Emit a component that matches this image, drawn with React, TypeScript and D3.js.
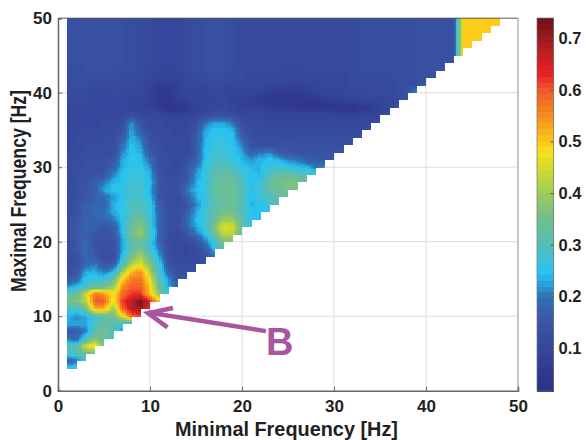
import React, { useEffect, useRef } from 'react';
import * as d3 from 'd3';

// correlation x100 at grid nodes, one row per maximal frequency, k = 1, 2, ... along each row
const row3 = [28, 28];
const row4 = [17, 19, 30];
const row5 = [28, 30, 33, 35];
const row6 = [31, 30, 46, 50, 34];
const row7 = [20, 18, 28, 38, 33, 28];
const row8 = [15, 16, 20, 31, 36, 30, 20];
const row9 = [23, 23, 23, 29, 33, 32, 28, 27];
const row10 = [24, 21, 23, 28, 30, 34, 45, 58, 60];
const row11 = [28, 28, 34, 52, 52, 40, 58, 67, 70, 62];
const row12 = [37, 37, 42, 60, 60, 46, 62, 68, 74, 64, 50];
const row13 = [33, 33, 44, 58, 54, 47, 58, 62, 62, 50, 38, 25];
const row14 = [22, 25, 28, 33, 34, 40, 55, 59, 59, 50, 33, 23, 18];
const row15 = [15, 17, 26, 27, 27, 33, 49, 57, 57, 47, 30, 22, 15, 14];
const row16 = [13, 15, 23, 24, 20, 24, 40, 52, 55, 42, 28, 18, 13, 12, 12];
const row17 = [12, 13, 18, 20, 15, 16, 28, 42, 46, 36, 27, 14, 12, 12, 12, 12];
const row18 = [12, 14, 18, 16, 13, 13, 25, 36, 42, 33, 23, 13, 11, 11, 11, 13, 20];
const row19 = [12, 15, 19, 15, 13, 13, 22, 31, 36, 28, 20, 13, 11, 10, 12, 16, 24, 32];
const row20 = [12, 15, 18, 14, 13, 14, 22, 32, 33, 27, 18, 13, 11, 11, 14, 20, 28, 36, 36];
const row21 = [12, 15, 17, 15, 14, 15, 24, 35, 40, 30, 18, 13, 11, 14, 19, 25, 33, 43, 42, 33];
const row22 = [12, 16, 18, 17, 15, 16, 25, 34, 38, 28, 18, 13, 12, 18, 23, 27, 36, 46, 45, 33, 26];
const row23 = [12, 15, 17, 17, 18, 20, 25, 32, 35, 28, 18, 13, 12, 18, 24, 27, 33, 40, 40, 32, 25, 24];
const row24 = [12, 14, 17, 18, 19, 23, 26, 30, 31, 27, 17, 13, 12, 16, 23, 28, 32, 35, 35, 30, 25, 25, 25];
const row25 = [12, 13, 17, 18, 17, 24, 26, 30, 30, 27, 17, 13, 12, 15, 21, 26, 31, 34, 34, 30, 24, 25, 28, 30];
const row26 = [12, 13, 15, 17, 19, 22, 25, 28, 28, 25, 15, 13, 12, 17, 23, 27, 32, 34, 34, 30, 24, 27, 30, 32, 34];
const row27 = [12, 13, 15, 16, 23, 25, 26, 29, 28, 24, 14, 13, 13, 20, 24, 27, 32, 34, 34, 30, 25, 28, 32, 34, 36, 36];
const row28 = [11, 13, 14, 17, 20, 24, 25, 28, 28, 25, 15, 12, 12, 16, 23, 27, 32, 34, 34, 29, 25, 27, 33, 35, 36, 36, 34];
const row29 = [11, 12, 14, 14, 15, 21, 25, 27, 27, 24, 14, 12, 12, 15, 22, 27, 31, 33, 32, 28, 25, 24, 30, 33, 33, 32, 30, 28];
const row30 = [11, 12, 13, 13, 13, 17, 24, 26, 26, 22, 13, 12, 11, 15, 20, 26, 30, 31, 29, 26, 24, 24, 27, 28, 27, 25, 25, 20, 22];
const row31 = [11, 12, 13, 13, 13, 15, 23, 26, 25, 19, 13, 12, 11, 13, 17, 25, 28, 29, 27, 24, 22, 24, 25, 24, 21, 20, 17, 16, 15, 15];
const row32 = [11, 11, 12, 12, 12, 13, 21, 25, 24, 15, 13, 11, 11, 11, 16, 25, 27, 27, 26, 23, 17, 20, 21, 16, 15, 14, 14, 14, 14, 14, 15];
const row33 = [10, 11, 12, 12, 12, 12, 19, 25, 22, 14, 12, 11, 11, 11, 16, 24, 27, 27, 26, 21, 14, 13, 13, 13, 14, 13, 13, 13, 13, 13, 13, 14];
const row34 = [10, 11, 11, 11, 12, 12, 16, 24, 20, 13, 12, 11, 11, 11, 15, 24, 26, 26, 25, 17, 13, 12, 12, 12, 12, 12, 12, 12, 12, 12, 12, 12, 13];
const row35 = [10, 10, 11, 11, 11, 11, 14, 23, 16, 12, 11, 11, 10, 11, 14, 23, 25, 25, 24, 15, 12, 11, 11, 11, 11, 11, 11, 11, 11, 11, 11, 11, 11, 13];
const row36 = [10, 10, 10, 10, 11, 11, 13, 22, 14, 11, 11, 10, 10, 10, 12, 20, 23, 23, 20, 12, 11, 11, 10, 10, 10, 10, 10, 10, 10, 10, 10, 10, 10, 11, 13];
const row37 = [10, 10, 10, 10, 10, 10, 10, 12, 11, 10, 10, 9, 8, 9, 10, 11, 13, 13, 12, 10, 10, 10, 9, 9, 9, 9, 9, 9, 9, 9, 8, 8, 9, 9, 10, 13];
const row38 = [10, 10, 11, 10, 10, 10, 10, 9, 9, 8, 7, 4, 4, 6, 8, 9, 10, 10, 9, 8, 8, 8, 7, 7, 7, 6, 5, 5, 6, 5, 4, 4, 5, 6, 8, 9, 13];
const row39 = [11, 11, 11, 10, 10, 10, 10, 9, 9, 8, 5, 5, 7, 8, 9, 9, 10, 10, 9, 8, 7, 6, 5, 4, 5, 5, 5, 5, 6, 7, 8, 9, 9, 9, 10, 10, 11, 13];
const row40 = [11, 11, 11, 10, 10, 11, 11, 10, 10, 8, 5, 6, 8, 9, 9, 9, 10, 10, 9, 9, 9, 8, 7, 6, 6, 6, 7, 8, 9, 9, 10, 10, 10, 11, 11, 11, 12, 14, 24];
const row41 = [12, 12, 12, 11, 11, 11, 11, 11, 10, 9, 6, 7, 8, 10, 10, 10, 11, 11, 10, 10, 10, 10, 9, 9, 9, 8, 9, 9, 10, 10, 10, 11, 11, 11, 11, 11, 12, 13, 13, 18];
const row42 = [12, 12, 12, 12, 12, 12, 12, 11, 11, 10, 9, 9, 9, 10, 11, 12, 12, 12, 11, 11, 10, 10, 10, 10, 10, 10, 10, 10, 10, 10, 10, 11, 11, 11, 11, 12, 12, 12, 13, 13, 14];
const row43 = [12, 12, 13, 13, 13, 13, 12, 12, 11, 10, 10, 9, 10, 11, 12, 13, 13, 13, 12, 11, 11, 11, 11, 11, 10, 10, 11, 11, 11, 11, 11, 11, 12, 12, 12, 12, 12, 12, 13, 13, 13, 14];
const row44 = [13, 13, 13, 13, 13, 13, 13, 12, 11, 11, 10, 10, 10, 11, 12, 13, 13, 13, 12, 11, 11, 11, 11, 11, 11, 11, 11, 11, 11, 11, 11, 11, 12, 12, 12, 12, 12, 12, 13, 13, 13, 13, 14];
const row45 = [13, 13, 13, 13, 13, 13, 13, 12, 11, 11, 10, 10, 10, 11, 12, 13, 13, 13, 12, 11, 11, 11, 11, 11, 11, 11, 11, 11, 11, 11, 11, 11, 12, 12, 12, 12, 12, 12, 13, 13, 13, 13, 13, 50];
const row46 = [13, 13, 13, 13, 13, 13, 13, 12, 11, 11, 10, 10, 10, 11, 12, 13, 13, 13, 12, 11, 11, 11, 11, 11, 11, 11, 11, 11, 11, 11, 11, 11, 12, 12, 12, 12, 12, 12, 13, 13, 13, 13, 13, 50, 50];
const row47 = [13, 13, 13, 13, 13, 13, 13, 12, 11, 11, 10, 10, 10, 11, 12, 13, 13, 13, 12, 11, 11, 11, 11, 11, 11, 11, 11, 11, 11, 11, 11, 11, 12, 12, 12, 12, 12, 12, 13, 13, 13, 13, 13, 50, 50, 50];
const row48 = [13, 13, 13, 13, 13, 13, 13, 12, 11, 11, 10, 10, 10, 11, 12, 13, 13, 13, 12, 11, 11, 11, 11, 11, 11, 11, 11, 11, 11, 11, 11, 11, 12, 12, 12, 12, 12, 12, 13, 13, 13, 13, 13, 50, 50, 50, 50];
const row49 = [13, 13, 13, 13, 13, 13, 13, 12, 11, 11, 10, 10, 10, 11, 12, 13, 13, 13, 12, 11, 11, 11, 11, 11, 11, 11, 11, 11, 11, 11, 11, 11, 12, 12, 12, 12, 12, 12, 13, 13, 13, 13, 13, 50, 50, 50, 50, 50];
const row50 = [13, 13, 13, 13, 13, 13, 13, 12, 11, 11, 10, 10, 10, 11, 12, 13, 13, 13, 12, 11, 11, 11, 11, 11, 11, 11, 11, 11, 11, 11, 11, 11, 12, 12, 12, 12, 12, 12, 13, 13, 13, 13, 13, 50, 50, 50, 50, 50];

const rows = [
  row3, row4, row5, row6, row7, row8, row9, row10, row11, row12, row13, row14, row15, row16,
  row17, row18, row19, row20, row21, row22, row23, row24, row25, row26, row27, row28, row29,
  row30, row31, row32, row33, row34, row35, row36, row37, row38, row39, row40, row41, row42,
  row43, row44, row45, row46, row47, row48, row49, row50,
];
const firstRow = 3;

const axisTicks = [0, 10, 20, 30, 40, 50];
const barTicks = [0.1, 0.2, 0.3, 0.4, 0.5, 0.6, 0.7];
const barRange = [0.017, 0.739];

const colorStops = [0.017, 0.06, 0.1, 0.15, 0.2, 0.23, 0.25, 0.3, 0.35, 0.4, 0.45, 0.48, 0.5, 0.55, 0.6, 0.63, 0.68, 0.739];
const colorValues = ['#2e3086', '#303a90', '#34479c', '#3a55a5', '#2f72b8', '#27aae1', '#29c4f0', '#55bdb8', '#70bf90', '#9ccb5a', '#d4dc2a', '#f7e11d', '#fdc818', '#f68e1f', '#f0592a', '#ed2024', '#b51e23', '#6e1214'];

const FONT = '"Liberation Sans", Arial, sans-serif';
const INK = '#231f20';
const PURPLE = '#a9559f';

const App = () => {
  const svgRef = useRef<SVGSVGElement>(null);

  useEffect(() => {
    const svg = d3.select(svgRef.current);
    svg.selectAll('*').remove();

    const x = d3.scaleLinear().domain([0, 50]).range([58, 518]);
    const y = d3.scaleLinear().domain([0, 50]).range([390.7, 18.2]);
    const barY = d3.scaleLinear().domain(barRange).range([391, 18]);

    const smooth = d3.scaleLinear<string>().domain(colorStops).range(colorValues).interpolate(d3.interpolateRgb);
    // 64 colour steps, like the original colormap
    const levels = d3.range(64).map(i => smooth(barRange[0] + ((i + 0.5) / 64) * (barRange[1] - barRange[0])));
    const color = d3.scaleQuantize<string>().domain(barRange).range(levels);

    // grid first, the map sits over it
    const grid = svg.append('g').attr('stroke', '#dcdcdc').attr('stroke-width', 1);
    axisTicks.slice(1, -1).forEach(t => {
      grid.append('line').attr('x1', x(t)).attr('x2', x(t)).attr('y1', y(0)).attr('y2', y(50));
      grid.append('line').attr('x1', x(0)).attr('x2', x(50)).attr('y1', y(t)).attr('y2', y(t));
    });

    // interpolated shading between grid nodes
    const node = (k: number, j: number) => {
      const r = rows[j - firstRow];
      return r ? r[k - 1] : undefined;
    };
    const steps = 4;
    const map = svg.append('g').attr('shape-rendering', 'crispEdges');
    for (let j = firstRow; j < 50; j++) {
      for (let k = 1; k <= 47 && k <= j - 2; k++) {
        const a = node(k, j), b = node(k + 1, j), c = node(k, j + 1), d = node(k + 1, j + 1);
        if (a === undefined || b === undefined || c === undefined || d === undefined) continue;
        for (let s = 0; s < steps; s++) {
          for (let t = 0; t < steps; t++) {
            const u = (s + 0.5) / steps;
            const v = (t + 0.5) / steps;
            const val = (a * (1 - u) * (1 - v) + b * u * (1 - v) + c * (1 - u) * v + d * u * v) / 100;
            const x0 = x(k + s / steps), x1 = x(k + (s + 1) / steps);
            const y0 = y(j + (t + 1) / steps), y1 = y(j + t / steps);
            map.append('rect')
              .attr('x', x0).attr('y', y0)
              .attr('width', x1 - x0 + 0.3).attr('height', y1 - y0 + 0.3)
              .attr('fill', color(val));
          }
        }
      }
    }

    // box
    svg.append('line').attr('x1', x(0)).attr('x2', x(50)).attr('y1', y(50)).attr('y2', y(50)).attr('stroke', '#555');
    svg.append('line').attr('x1', x(50)).attr('x2', x(50)).attr('y1', y(50)).attr('y2', y(0)).attr('stroke', '#b5b5b5').attr('stroke-width', 1.5);

    const styleAxis = (g: any) => {
      g.select('.domain').attr('stroke', '#666').attr('stroke-width', 1.5);
      g.selectAll('.tick line').attr('stroke', '#666');
      g.selectAll('.tick text')
        .attr('fill', INK)
        .style('font-family', FONT)
        .style('font-weight', 'bold')
        .style('font-size', '17px');
    };

    svg.append('g')
      .attr('transform', `translate(0,${y(0)})`)
      .call(d3.axisBottom(x).tickValues(axisTicks).tickSize(-4).tickPadding(9).tickFormat(d3.format('d')) as any)
      .call(styleAxis);

    svg.append('g')
      .attr('transform', `translate(${x(0)},0)`)
      .call(d3.axisLeft(y).tickValues(axisTicks).tickSize(-4).tickPadding(6).tickFormat(d3.format('d')) as any)
      .call(styleAxis);

    // axis titles, the figure was squeezed vertically so glyphs are fitted to the measured length
    svg.append('text')
      .attr('x', 286.5).attr('y', 436)
      .attr('text-anchor', 'middle')
      .attr('textLength', 223).attr('lengthAdjust', 'spacingAndGlyphs')
      .attr('fill', INK)
      .style('font-family', FONT).style('font-weight', 'bold').style('font-size', '19.5px')
      .text('Minimal Frequency [Hz]');

    svg.append('text')
      .attr('transform', 'translate(26,191) rotate(-90)')
      .attr('text-anchor', 'middle')
      .attr('textLength', 202).attr('lengthAdjust', 'spacingAndGlyphs')
      .attr('fill', INK)
      .style('font-family', FONT).style('font-weight', 'bold').style('font-size', '22px')
      .text('Maximal Frequency [Hz]');

    // colorbar
    const bar = svg.append('g').attr('shape-rendering', 'crispEdges');
    const barStep = (barRange[1] - barRange[0]) / 64;
    levels.forEach((c, i) => {
      const lo = barRange[0] + i * barStep;
      bar.append('rect')
        .attr('x', 537).attr('width', 16.5)
        .attr('y', barY(lo + barStep)).attr('height', barY(lo) - barY(lo + barStep) + 0.5)
        .attr('fill', c);
    });
    svg.append('rect')
      .attr('x', 537).attr('y', 18).attr('width', 16.5).attr('height', 373)
      .attr('fill', 'none').attr('stroke', '#777').attr('stroke-width', 0.7);

    const barAxis = svg.append('g')
      .attr('transform', 'translate(553.5,0)')
      .call(d3.axisRight(barY).tickValues(barTicks).tickSize(-3).tickPadding(5).tickFormat(d3.format('.1f')) as any);
    barAxis.select('.domain').remove();
    barAxis.selectAll('.tick line').attr('stroke', '#555');
    barAxis.selectAll('.tick text')
      .attr('fill', INK)
      .style('font-family', FONT).style('font-weight', 'bold').style('font-size', '16.5px');

    // annotation
    const arrow = svg.append('g').attr('stroke', PURPLE).attr('fill', 'none').attr('stroke-width', 4.5);
    arrow.append('line').attr('x1', x(22.6)).attr('y1', y(8)).attr('x2', x(9.8)).attr('y2', y(10.5));
    arrow.append('path')
      .attr('d', d3.line()([[x(12.5), y(11.1)], [x(9.8), y(10.4)], [x(11.9), y(8.5)]]))
      .attr('stroke-linejoin', 'miter');

    svg.append('text')
      .attr('x', x(22.6)).attr('y', 355)
      .attr('fill', PURPLE)
      .style('font-family', FONT).style('font-weight', 'bold').style('font-size', '38px')
      .text('B');
  }, []);

  return <svg ref={svgRef} width={586} height={440} style={{ position: 'absolute', left: 0, top: 0, display: 'block' }} />;
};

export default App;
